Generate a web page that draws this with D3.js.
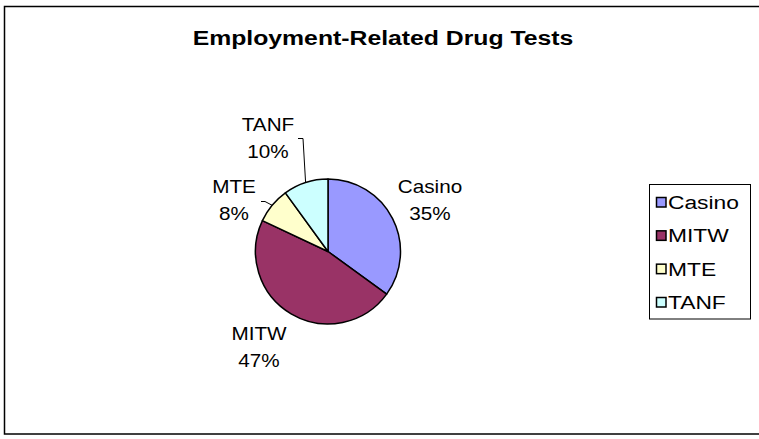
<!DOCTYPE html>
<html>
<head>
<meta charset="utf-8">
<script src="https://cdn.jsdelivr.net/npm/d3@7"></script>
<style>
  html, body { margin: 0; padding: 0; background: #fff; }
  svg { display: block; }
  text { font-family: Arial, "Liberation Sans", sans-serif; fill: #000; }
</style>
</head>
<body>
<svg id="chart" width="759" height="439"></svg>
<script>
const title = "Employment-Related Drug Tests";
const categories = ["Casino", "MITW", "MTE", "TANF"];
const values = [35, 47, 8, 10];
const colors = ["#9999FF", "#993366", "#FFFFCC", "#CCFFFF"];

const svg = d3.select("#chart");
const W = 759, H = 439;
const sx = 1.15; // horizontal glyph stretch to match reference rendering

// outer chart border
svg.append("rect")
  .attr("x", 4.5).attr("y", 6.5)
  .attr("width", 800).attr("height", 427.5)
  .attr("fill", "#fff").attr("stroke", "#000").attr("stroke-width", 1.5);

function stretchedText(g, x, y, str, size, weight) {
  return g.append("text")
    .attr("transform", `translate(${x},${y}) scale(${sx},1)`)
    .attr("text-anchor", "middle")
    .style("font-size", size + "px")
    .style("font-weight", weight || "normal")
    .text(str);
}

// title
svg.append("text")
  .attr("transform", `translate(383,45) scale(1.18,1)`)
  .attr("text-anchor", "middle")
  .style("font-size", "21px")
  .style("font-weight", "bold")
  .text(title);

// pie
const cx = 328, cy = 251.5, r = 72.5;
const pie = d3.pie().sort(null).value(d => d)(values);
const arc = d3.arc().innerRadius(0).outerRadius(r);
const g = svg.append("g").attr("transform", `translate(${cx},${cy})`);
g.selectAll("path").data(pie).join("path")
  .attr("d", arc)
  .attr("fill", (d, i) => colors[i])
  .attr("stroke", "#000")
  .attr("stroke-width", 1.5)
  .attr("stroke-linejoin", "round");

// data labels (name + percent), positioned outside
const total = d3.sum(values);
const labelPos = [
  {x: 430, y1: 193, y2: 220},
  {x: 259, y1: 340, y2: 367},
  {x: 234, y1: 193, y2: 220},
  {x: 268, y1: 131, y2: 158}
];
categories.forEach((c, i) => {
  const p = labelPos[i];
  stretchedText(svg, p.x, p.y1, c, 18);
  stretchedText(svg, p.x, p.y2, Math.round(values[i] / total * 100) + "%", 18);
});

// leader lines for small slices (from label to slice mid-point on the rim)
function rimPoint(d) {
  const a = (d.startAngle + d.endAngle) / 2;
  return [cx + r * Math.sin(a), cy - r * Math.cos(a)];
}
const tanfRim = rimPoint(pie[3]);
svg.append("path")
  .attr("d", `M298,138.5 L303,138.5 L${tanfRim[0]},${tanfRim[1]}`)
  .attr("fill", "none").attr("stroke", "#000").attr("stroke-width", 1);
const mteRim = rimPoint(pie[2]);
svg.append("path")
  .attr("d", `M261,201.5 L265,201.5 L${mteRim[0]},${mteRim[1]}`)
  .attr("fill", "none").attr("stroke", "#000").attr("stroke-width", 1);

// legend
const lg = svg.append("g");
lg.append("rect")
  .attr("x", 649.5).attr("y", 184.5)
  .attr("width", 101).attr("height", 134.5)
  .attr("fill", "#fff").attr("stroke", "#000").attr("stroke-width", 1);
const rowY = d3.scalePoint().domain(categories).range([202, 302]);
categories.forEach((c, i) => {
  const y = rowY(c);
  lg.append("rect")
    .attr("x", 656.5).attr("y", y - 4.5)
    .attr("width", 9.5).attr("height", 9.5)
    .attr("fill", colors[i]).attr("stroke", "#000").attr("stroke-width", 1.5);
  lg.append("text")
    .attr("transform", `translate(668,${y + 7}) scale(1.2,1)`)
    .attr("text-anchor", "start")
    .style("font-size", "19px")
    .text(c);
});
</script>
</body>
</html>
